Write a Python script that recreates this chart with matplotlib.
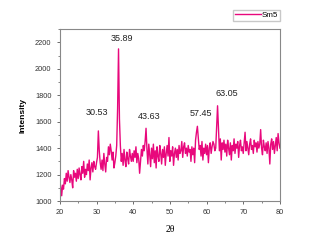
import numpy as np
import matplotlib
matplotlib.use("Agg")
import matplotlib.pyplot as plt
from matplotlib.ticker import MultipleLocator

# 2theta grid, 0.25 deg step, 20 -> 80
two_theta = np.arange(20, 80.001, 0.25)
intensity = [
    1150, 1110, 1040, 1120, 1090, 1170, 1130, 1210, 1150, 1230, 1180, 1140, 1200, 1160, 1100, 1230, 1180, 1210, 1150, 1240,
    1170, 1250, 1200, 1160, 1260, 1210, 1300, 1180, 1240, 1200, 1280, 1230, 1310, 1160, 1250, 1290, 1220, 1300, 1260, 1240,
    1290, 1330, 1530, 1380, 1290, 1240, 1310, 1230, 1360, 1280, 1220, 1330, 1300, 1410, 1350, 1430, 1380, 1310, 1370, 1250,
    1290, 1340, 1420, 1700, 2150, 1620, 1420, 1300, 1360, 1270, 1390, 1310, 1260, 1370, 1320, 1280, 1390, 1340, 1300, 1360,
    1300, 1380, 1330, 1410, 1290, 1360, 1320, 1210, 1300, 1390, 1340, 1420, 1380, 1450, 1550, 1390, 1280, 1430, 1350, 1260,
    1400, 1320, 1430, 1290, 1380, 1250, 1410, 1340, 1300, 1420, 1360, 1280, 1390, 1330, 1410, 1270, 1360, 1420, 1340, 1480,
    1300, 1380, 1340, 1410, 1270, 1360, 1400, 1330, 1390, 1310, 1420, 1360, 1380, 1450, 1330, 1410, 1440, 1360, 1400, 1340,
    1420, 1370, 1390, 1300, 1410, 1350, 1400, 1290, 1460, 1520, 1565, 1480, 1390, 1420, 1340, 1450, 1310, 1400, 1360, 1430,
    1350, 1420, 1290, 1400, 1440, 1360, 1410, 1450, 1430, 1380, 1400, 1560, 1720, 1540, 1380, 1470, 1310, 1440, 1390, 1460,
    1370, 1430, 1340, 1460, 1400, 1350, 1440, 1310, 1420, 1380, 1470, 1360, 1430, 1400, 1450, 1330, 1420, 1460, 1380, 1410,
    1360, 1440, 1520, 1380, 1450, 1400, 1350, 1430, 1470, 1390, 1420, 1360, 1460, 1410, 1440, 1370, 1450, 1400, 1430, 1540,
    1400, 1350, 1460, 1410, 1380, 1440, 1360, 1450, 1400, 1280, 1430, 1470, 1390, 1450, 1360, 1420, 1480, 1380, 1510, 1440,
    1400,
]

peak_labels = ["30.53", "35.89", "43.63", "57.45", "63.05"]
label_x = [30.1, 37.0, 44.3, 58.5, 65.4]
label_y = [1668, 2230, 1638, 1660, 1812]

plt.rcParams['font.family'] = ['Liberation Sans', 'DejaVu Sans']

fig = plt.figure(figsize=(3.27, 2.44), dpi=100)
ax = fig.add_axes([0.183, 0.176, 0.673, 0.705])
ax.plot(two_theta, intensity, c="#e8087c", lw=1.0, label="Sm5")

for t, x, y in zip(peak_labels, label_x, label_y):
    ax.text(x, y, t, fontsize=6.5, ha="center", va="center", color="#222222")

ax.set_xlim(20, 80)
ax.set_ylim(1000, 2300)
ax.xaxis.set_major_locator(MultipleLocator(10))
ax.xaxis.set_minor_locator(MultipleLocator(5))
ax.yaxis.set_major_locator(MultipleLocator(200))
ax.yaxis.set_minor_locator(MultipleLocator(100))
ax.tick_params(which="both", direction="out", labelsize=5.3, colors="#555555", labelcolor="#333333")
ax.tick_params(which="major", length=2.5, width=0.6)
ax.tick_params(which="minor", length=1.5, width=0.5)
for s in ax.spines.values():
    s.set_color("#888888")
    s.set_linewidth(0.8)

ax.set_ylabel("Intensity", fontsize=6, fontweight="bold", labelpad=6)
ax.set_xlabel("2\u03b8", fontsize=7, family="Liberation Serif", labelpad=6)

fig.legend(loc="upper right", bbox_to_anchor=(0.855, 0.96), fontsize=5.8,
           frameon=True, fancybox=False, edgecolor="#bbbbbb", handlelength=3.2,
           handletextpad=0.1, borderpad=0.2, borderaxespad=0)

fig.savefig("out.png", dpi=100)
